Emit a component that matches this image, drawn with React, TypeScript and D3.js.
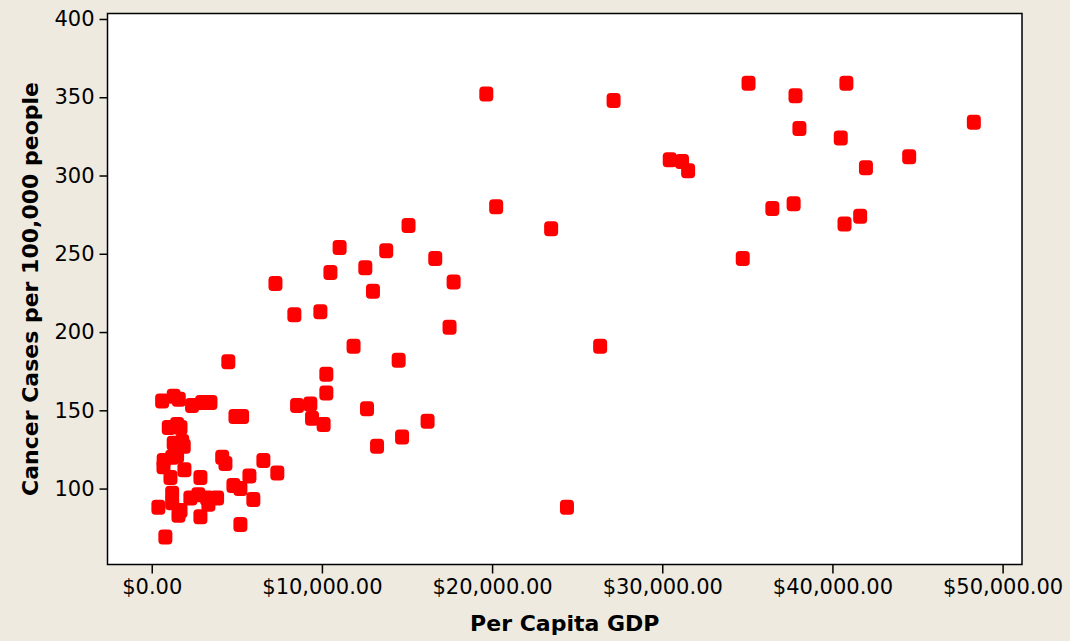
import * as d3 from "d3";
import React, { useEffect, useRef } from "react";

// per capita GDP (x) and cancer cases per 100,000 (y)
const gdp = [
  610, 1290, 1590, 2370, 2960, 3450, 1000, 1490, 1690, 1290,
  1790, 1880, 700, 1200, 1490, 690, 1920, 1100, 2860, 1200,
  390, 1200, 1690, 2270, 2740, 3250, 3330, 3840, 2860, 1570,
  800, 4140, 4330, 4920, 5310, 4500, 6560, 5740, 7380, 4800,
  5210, 5970, 5210, 8540, 9320, 9420, 10100, 10260, 10260, 12650,
  13240, 14710, 16210, 14510, 11860, 8380, 9910, 7270, 10500, 11040,
  12550, 13000, 13780, 15090, 16660, 17740, 17500, 19660, 27140, 20240,
  23470, 26350, 24400, 30440, 31160, 31520, 34730, 35070, 37830, 38060,
  36470, 37720, 40820, 40490, 40710, 41630, 41970, 44510, 48310,
];
const cancerCases = [
  156, 159, 157, 153, 155, 155, 139, 141, 139, 129,
  130, 127, 118, 120, 121, 114, 112, 107, 107, 97,
  88, 91, 86, 94, 96, 94, 90, 94, 82, 83,
  69, 120, 116, 146, 146, 181, 118, 108, 110, 102,
  100, 93, 77, 153, 154, 145, 141, 173, 161, 151,
  127, 133, 143, 182, 191, 211, 213, 231, 238, 254,
  241, 226, 252, 268, 247, 232, 203, 352, 348, 280,
  266, 191, 88, 310, 309, 303, 247, 359, 351, 330,
  279, 282, 359, 324, 269, 274, 305, 312, 334,
];

const xTicks = [0, 10000, 20000, 30000, 40000, 50000];
const yTicks = [100, 150, 200, 250, 300, 350, 400];

const App = () => {
  const chartArea = useRef(null);
  const width = 1070, height = 641;
  const box = { left: 107.5, right: 1022, top: 13.5, bottom: 564.5 };
  const font = "'DejaVu Sans', sans-serif";

  useEffect(() => {
    document.body.style.margin = "0";
    const svg = d3.select(chartArea.current);
    svg.selectAll("*").remove();

    svg.append("rect")
      .attr("width", width)
      .attr("height", height)
      .attr("fill", "#eeeae0");

    const x = d3.scaleLinear().domain([-2600, 51140]).range([box.left, box.right]);
    const y = d3.scaleLinear().domain([51.5, 403.5]).range([box.bottom, box.top]);

    svg.append("rect")
      .attr("x", box.left)
      .attr("y", box.top)
      .attr("width", box.right - box.left)
      .attr("height", box.bottom - box.top)
      .attr("fill", "white")
      .attr("stroke", "black")
      .attr("stroke-width", 1.5);

    const money = d3.format(",.2f");

    const xAxis = svg.append("g")
      .attr("transform", "translate(0," + box.bottom + ")")
      .call(d3.axisBottom(x).tickValues(xTicks).tickSize(9).tickPadding(6)
        .tickFormat((d: any) => "$" + money(d)));
    const yAxis = svg.append("g")
      .attr("transform", "translate(" + box.left + ",0)")
      .call(d3.axisLeft(y).tickValues(yTicks).tickSize(8).tickPadding(5)
        .tickFormat(d3.format("d") as any));

    [xAxis, yAxis].forEach(g => {
      g.select(".domain").remove();
      g.selectAll("line").attr("stroke", "black").attr("stroke-width", 1.5);
      g.selectAll("text")
        .attr("font-family", font)
        .attr("font-size", "21px")
        .attr("fill", "black");
    });

    const points = gdp.map((g, i) => ({ g, c: cancerCases[i] }));
    svg.append("g")
      .selectAll("rect")
      .data(points)
      .enter()
      .append("rect")
      .attr("x", d => x(d.g) - 7)
      .attr("y", d => y(d.c) - 7.5)
      .attr("width", 14)
      .attr("height", 15)
      .attr("rx", 4)
      .attr("fill", "#ff0000");

    svg.append("text")
      .attr("x", (box.left + box.right) / 2)
      .attr("y", 631)
      .attr("text-anchor", "middle")
      .attr("font-family", font)
      .attr("font-weight", "bold")
      .attr("font-size", "22px")
      .text("Per Capita GDP");

    svg.append("text")
      .attr("transform", "translate(38," + 289 + ") rotate(-90)")
      .attr("text-anchor", "middle")
      .attr("font-family", font)
      .attr("font-weight", "bold")
      .attr("font-size", "22px")
      .text("Cancer Cases per 100,000 people");
  }, []);

  return (
    <svg ref={chartArea} width={width} height={height}
      style={{ display: "block", position: "absolute", left: 0, top: 0 }} />
  );
};

export default App;
